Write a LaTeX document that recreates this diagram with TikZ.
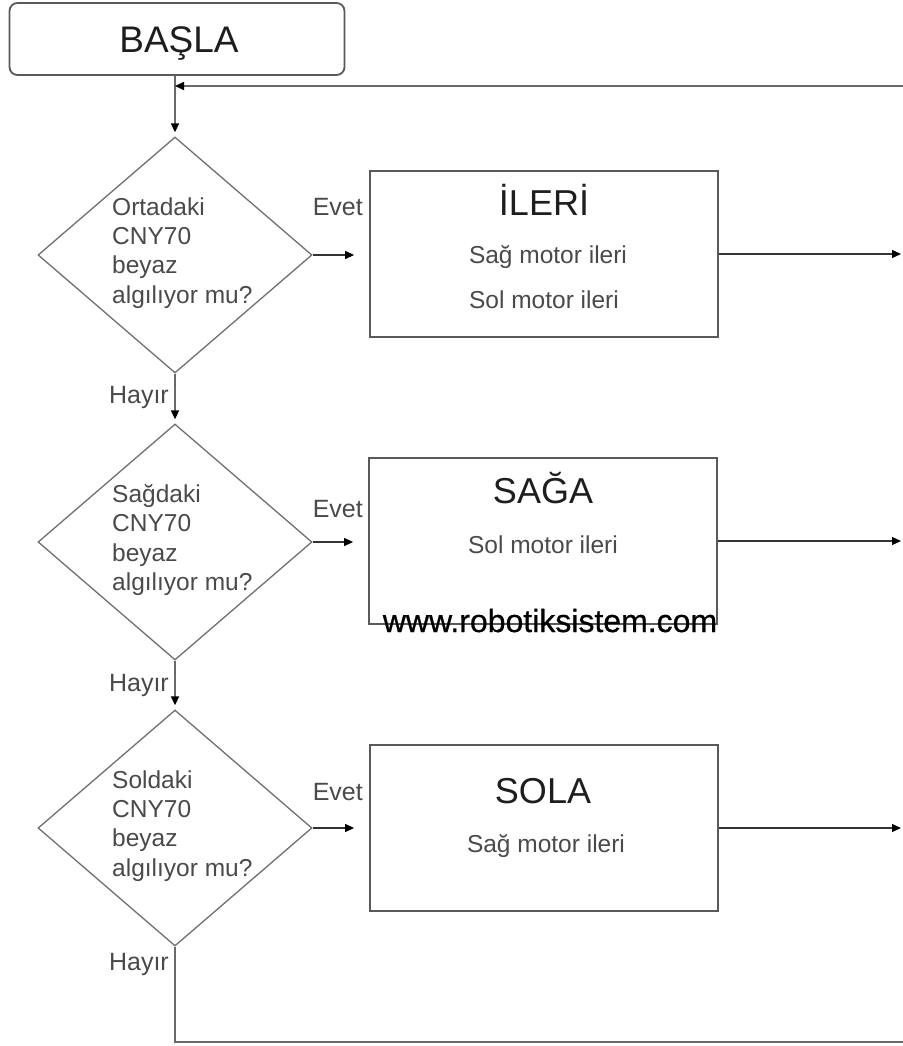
\documentclass[tikz,border=0pt]{standalone}
\usepackage{fontspec}
\setmainfont{Liberation Sans}
\newfontfamily\wmfont[FakeBold=0.6]{Liberation Sans}
\usetikzlibrary{shapes.geometric,arrows.meta}
\definecolor{boxgray}{HTML}{5A5A5A}
\definecolor{diagray}{HTML}{707070}
\definecolor{linegray}{HTML}{6A6A6A}
\definecolor{thingray}{HTML}{333333}
\definecolor{textgray}{HTML}{4A4A4A}
\definecolor{titlegray}{HTML}{1E1E1E}
\begin{document}
\begin{tikzpicture}[x=1pt,y=-1pt,
  procbox/.style={draw=boxgray,line width=1.8pt,fill=white,inner sep=0pt,minimum width=348pt,minimum height=166pt},
  startbox/.style={draw=boxgray,line width=1.8pt,fill=white,rounded corners=8pt,inner sep=0pt,minimum width=335pt,minimum height=72pt},
  decision/.style={diamond,draw=diagray,line width=1.3pt,fill=white,inner sep=0pt,minimum width=274pt,minimum height=236pt},
  conn/.style={draw=linegray,line width=1.6pt},
  arr/.style={conn,-{Triangle[length=9pt,width=8pt,color=black]}},
  thinarr/.style={draw=thingray,line width=1.1pt,-{Triangle[length=9pt,width=8pt,color=black]}},
  body/.style={text=textgray,inner sep=0pt,font=\fontsize{24.5}{29.3}\selectfont},
  title/.style={text=titlegray,inner sep=0pt,font=\fontsize{36}{40}\selectfont},
  lbl/.style={text=textgray,inner sep=0pt,font=\fontsize{25}{28}\selectfont},
]
\useasboundingbox[fill=white] (0,0) rectangle (902,1046);

% start
\node[startbox] (start) at (177,39) {};
\node[text=titlegray,inner sep=0pt,font=\fontsize{37}{42}\selectfont,anchor=base] (startT) at (179,53) {BAŞLA};

% decisions
\node[decision] (d1) at (175,255) {};
\node[decision] (d2) at (175,542) {};
\node[decision] (d3) at (175,828) {};
\node[body,align=left,anchor=west] (d1T) at (112,253) {Ortadaki\\CNY70\\beyaz\\algılıyor mu?};
\node[body,align=left,anchor=west] (d2T) at (112,540) {Sağdaki\\CNY70\\beyaz\\algılıyor mu?};
\node[body,align=left,anchor=west] (d3T) at (112,826) {Soldaki\\CNY70\\beyaz\\algılıyor mu?};

% process boxes
\node[procbox] (b1) at (544,254) {};
\node[procbox] (b2) at (543,541) {};
\node[procbox] (b3) at (544,828) {};

\node[title,anchor=base] (b1T) at (544,215) {İLERİ};
\node[body,anchor=base] (b1a) at (548,263) {Sağ motor ileri};
\node[body,anchor=base] (b1b) at (544,308) {Sol motor ileri};

\node[title,anchor=base] (b2T) at (543,503) {SAĞA};
\node[body,anchor=base] (b2a) at (543,553) {Sol motor ileri};

\node[title,anchor=base] (b3T) at (543,803) {SOLA};
\node[body,anchor=base] (b3a) at (546,852) {Sağ motor ileri};

% labels
\node[lbl,anchor=base east] (e1) at (363,215) {Evet};
\node[lbl,anchor=base east] (e2) at (363,517) {Evet};
\node[lbl,anchor=base east] (e3) at (363,800) {Evet};
\node[lbl,anchor=base east] (h1) at (169,403) {Hayır};
\node[lbl,anchor=base east] (h2) at (169,691) {Hayır};
\node[lbl,anchor=base east] (h3) at (169,970) {Hayır};

% connectors
\coordinate (loopT) at (903,86);
\coordinate (loopB) at (903,1042);
\coordinate (o1) at (901,254);
\coordinate (o2) at (901,541);
\coordinate (o3) at (901,828);

\draw[arr,shorten >=4pt] (start.south -| d1.north) -- (d1.north);
\draw[arr] (loopT) -- (loopT -| d1.north);
\draw[arr,shorten >=4pt] (d1.south) -- (d2.north);
\draw[arr,shorten >=4pt] (d2.south) -- (d3.north);
\draw[conn] (d3.south) |- (loopB);

\draw[thinarr,shorten >=15pt] (d1.east) -- (d1.east -| b1.west);
\draw[thinarr,shorten >=15pt] (d2.east) -- (d2.east -| b2.west);
\draw[thinarr,shorten >=15pt] (d3.east) -- (d3.east -| b3.west);

\draw[thinarr] (b1.east) -- (o1);
\draw[thinarr] (b2.east) -- (o2);
\draw[thinarr] (b3.east) -- (o3);

% watermark
\node[text=black,inner sep=0pt,font=\wmfont\fontsize{32}{36}\selectfont,anchor=base] (wm) at (550,632) {www.robotiksistem.com};
\end{tikzpicture}
\end{document}
